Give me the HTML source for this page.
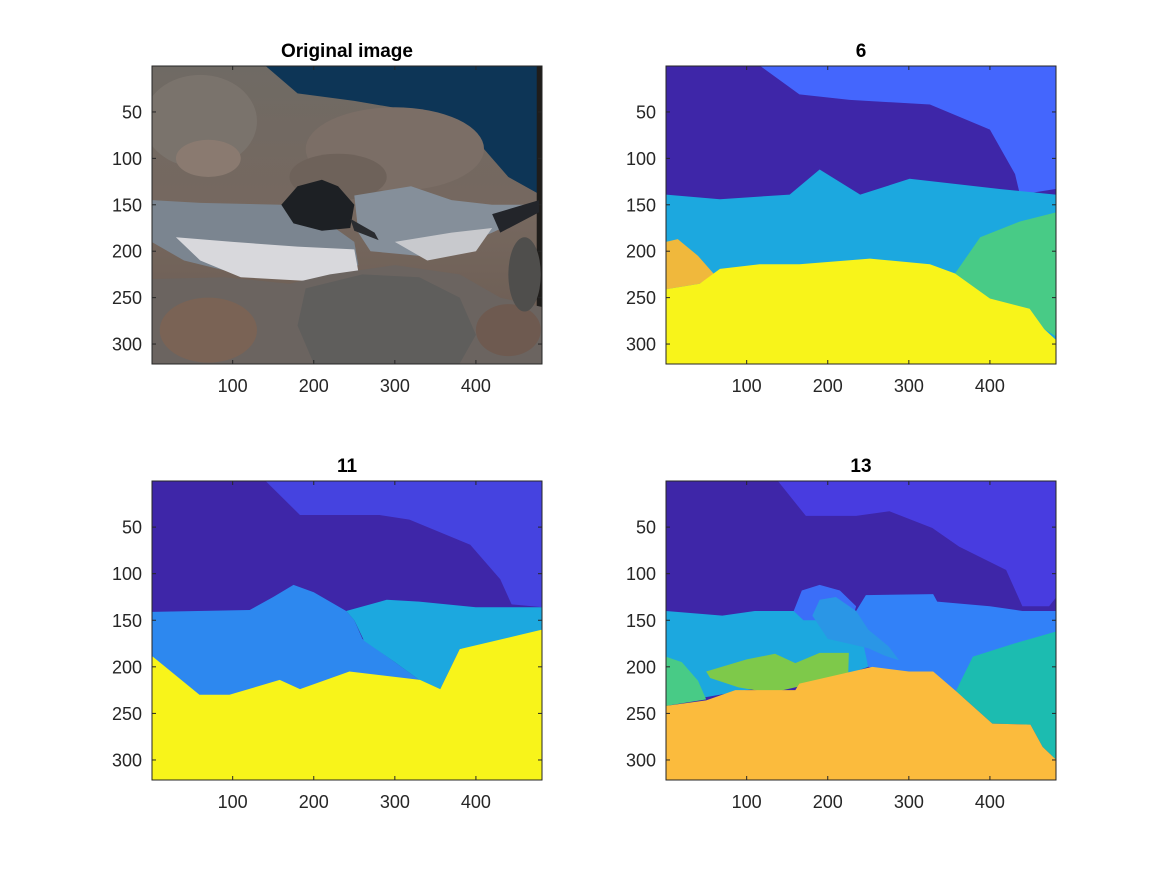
<!DOCTYPE html>
<html><head><meta charset="utf-8"><style>
html,body{margin:0;padding:0;background:#fff;}
svg text{font-family:"Liberation Sans",Arial,sans-serif;}
</style></head><body>
<svg id="fig" width="1167" height="875" viewBox="0 0 1167 875" xmlns="http://www.w3.org/2000/svg">
<rect width="1167" height="875" fill="#fff"/>
<defs>
<linearGradient id="rockg" x1="0" y1="0" x2="0" y2="1">
<stop offset="0" stop-color="#6f6a64"/><stop offset="0.5" stop-color="#76685f"/><stop offset="1" stop-color="#6a5a50"/>
</linearGradient>
</defs>

<!-- Panel 1: original image -->
<svg x="152" y="66" width="390" height="298" viewBox="0.5 0.5 481 321" preserveAspectRatio="none">
<rect x="0" y="0" width="482" height="322" fill="url(#rockg)"/>
<polygon fill="#0d3556" points="140,0 180,30 250,38 330,50 400,80 440,120 481,140 481,0"/>
<ellipse cx="60" cy="60" rx="70" ry="50" fill="#7a736c"/>
<ellipse cx="300" cy="90" rx="110" ry="45" fill="#7b6e66"/>
<ellipse cx="230" cy="120" rx="60" ry="25" fill="#6e625a"/>
<ellipse cx="70" cy="100" rx="40" ry="20" fill="#8a7a70"/>
<rect x="475" y="0" width="7" height="322" fill="#1f1d1b"/>
<polygon fill="#7b8590" points="0,145 60,148 160,150 210,165 250,190 255,215 200,230 110,225 40,210 0,190"/>
<polygon fill="#d8d8dc" points="30,185 100,190 180,195 250,198 255,222 190,232 110,228 60,210"/>
<polygon fill="#858f9a" points="250,140 320,130 370,145 420,150 470,150 470,160 420,180 380,195 330,205 270,200 255,180"/>
<polygon fill="#c8c9cd" points="300,190 370,180 420,175 400,200 340,210"/>
<polygon fill="#23252a" points="420,160 478,145 478,158 430,180"/>
<polygon fill="#1d2024" points="160,150 180,130 210,123 230,130 250,150 245,175 210,178 175,170"/>
<polygon fill="#2a2c30" points="245,165 275,180 280,188 250,178"/>
<polygon fill="#6b6460" points="0,230 90,228 170,235 220,225 300,215 380,225 430,250 481,260 481,321 0,321"/>
<polygon fill="#5f5e5c" points="190,240 260,225 330,228 380,250 400,290 380,321 200,321 180,280"/>
<ellipse cx="70" cy="285" rx="60" ry="35" fill="#7a6355"/>
<ellipse cx="440" cy="285" rx="40" ry="28" fill="#6e5a50"/>
<ellipse cx="460" cy="225" rx="20" ry="40" fill="#4f4e4c"/>
</svg>

<!-- Panel 2: 6 clusters -->
<svg x="666" y="66" width="390" height="298" viewBox="0.5 0.5 481 321" preserveAspectRatio="none">
<rect x="0" y="0" width="482" height="322" fill="#3e26a8"/>
<polygon fill="#4466fd" points="116,0 165,31 227,37 326,42 400,69 431,117 437,139 481,133 481,0"/>
<polygon fill="#1ca8df" points="0,139 67,144 153,139 190,112 240,139 301,122 412,133 481,139 482,322 0,322"/>
<polygon fill="#f0b83c" points="0,190 15,187 40,205 60,225 42,235 0,241"/>
<polygon fill="#48cb86" points="357,224 388,185 437,168 482,158 482,292 467,284 449,262 400,251"/>
<polygon fill="#f8f41a" points="0,241 42,235 67,219 116,214 165,214 252,208 326,214 357,224 400,251 449,262 467,284 482,296 482,322 0,322"/>
</svg>

<!-- Panel 3: 11 clusters -->
<svg x="152" y="481" width="390" height="299" viewBox="0.5 0.5 481 321" preserveAspectRatio="none">
<rect x="0" y="0" width="482" height="322" fill="#3e26a8"/>
<polygon fill="#4543e0" points="140,0 183,37 281,37 318,42 393,69 430,106 444,133 482,136 482,0"/>
<polygon fill="#2d88ef" points="0,141 121,139 150,125 175,112 200,120 240,140 250,150 260,170 300,195 330,214 356,224 482,224 482,322 0,322"/>
<polygon fill="#1ca8df" points="240,140 290,128 330,130 400,136 482,136 482,165 380,181 356,224 330,214 300,195 262,172 250,150"/>
<polygon fill="#f8f41a" points="0,188 59,230 96,230 158,214 183,224 244,205 331,214 356,224 380,181 482,160 482,322 0,322"/>
</svg>

<!-- Panel 4: 13 clusters -->
<svg x="666" y="481" width="390" height="299" viewBox="0.5 0.5 481 321" preserveAspectRatio="none">
<rect x="0" y="0" width="482" height="322" fill="#3e26a8"/>
<polygon fill="#483ce0" points="138,0 173,38 235,38 276,33 329,51 362,71 420,96 440,135 473,135 482,125 482,0"/>
<polygon fill="#1ca8df" points="0,140 70,145 110,140 160,140 200,150 240,145 250,200 200,215 100,225 0,240"/>
<polygon fill="#3281f8" points="235,140 247,123 330,122 335,130 400,135 440,140 482,140 482,240 358,232 300,210 250,200"/>
<polygon fill="#3b6ef8" points="158,140 168,118 190,112 215,118 235,135 230,150 170,150"/>
<polygon fill="#2a96e6" points="181,145 190,128 210,125 235,140 250,160 275,178 288,193 270,188 250,180 225,175 200,170"/>
<polygon fill="#48cb86" points="0,189 20,195 40,215 50,235 0,242"/>
<polygon fill="#7ec94a" points="50,205 100,192 135,186 160,196 190,185 226,185 225,215 170,220 130,228 90,222 55,212"/>
<polygon fill="#1cbcb0" points="358,226 379,189 430,175 482,162 482,300 465,286 450,262 403,261"/>
<polygon fill="#fbbb3d" points="0,242 50,236 86,225 160,225 165,218 255,200 300,205 330,205 358,226 403,261 450,262 465,286 482,300 482,322 0,322"/>
</svg>

<g id="axes"></g>
</svg>
<script>
const xTicks = [100, 200, 300, 400];
const yTicks = [50, 100, 150, 200, 250, 300];
const xTickLabels = ["100", "200", "300", "400"];
const yTickLabels = ["50", "100", "150", "200", "250", "300"];
const titles = ["Original image", "6", "11", "13"];
const panels = [
  {l:152, t:66, w:390, h:298},
  {l:666, t:66, w:390, h:298},
  {l:152, t:481, w:390, h:299},
  {l:666, t:481, w:390, h:299}
];
const NS = "http://www.w3.org/2000/svg";
const g = document.getElementById('axes');
function mk(tag, attrs){const e=document.createElementNS(NS,tag);for(const k in attrs)e.setAttribute(k,attrs[k]);g.appendChild(e);return e;}
panels.forEach((p,i)=>{
  const sx = v => p.l + (v-0.5)/481*p.w;
  const sy = v => p.t + (v-0.5)/321*p.h;
  const box = mk('rect',{x:p.l,y:p.t,width:p.w,height:p.h,fill:'none',stroke:'#262626','stroke-width':1});
  
  
  xTicks.forEach((v,j)=>{
    const x=sx(v);
    const t1=mk('line',{x1:x,y1:p.t+p.h,x2:x,y2:p.t+p.h-4,stroke:'#262626'});
    
    
    const t2=mk('line',{x1:x,y1:p.t,x2:x,y2:p.t+4,stroke:'#262626'});
    
    
    const tx=mk('text',{x:x,y:p.t+p.h+28,'text-anchor':'middle','font-size':'18',fill:'#262626'});
    tx.textContent=xTickLabels[j];
    
    
  });
  yTicks.forEach((v,j)=>{
    const y=sy(v);
    const t1=mk('line',{x1:p.l,y1:y,x2:p.l+4,y2:y,stroke:'#262626'});
    
    
    const t2=mk('line',{x1:p.l+p.w,y1:y,x2:p.l+p.w-4,y2:y,stroke:'#262626'});
    
    
    const tx=mk('text',{x:p.l-10,y:y+6.5,'text-anchor':'end','font-size':'18',fill:'#262626'});
    tx.textContent=yTickLabels[j];
    
    
  });
  const tt=mk('text',{x:p.l+p.w/2,y:p.t-9,'text-anchor':'middle','font-size':'19','font-weight':'bold',fill:'#000'});
  tt.textContent=titles[i];
  
  
});
</script>
</body></html>
